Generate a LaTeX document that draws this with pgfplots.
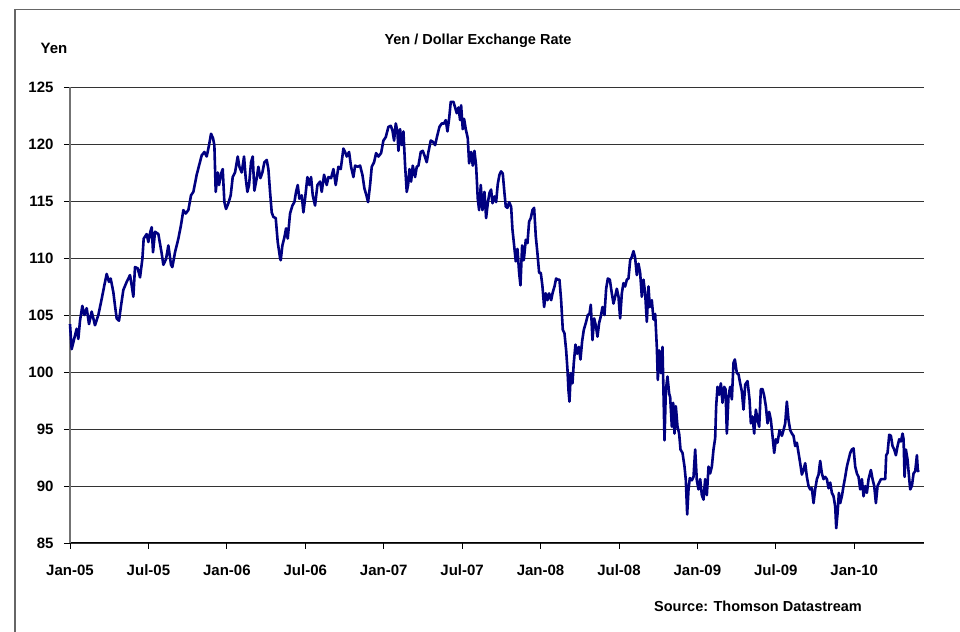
\documentclass[border=0pt]{standalone}
\usepackage{pgfplots}
\usepackage{pgfplotstable}
\pgfplotsset{compat=1.18}
\usepackage{fontspec}
\setmainfont{Liberation Sans}
\definecolor{navyline}{RGB}{0,0,128}

% t: time in units of 1/39.2 month from 1 Jan 2005; v: yen per dollar
\pgfplotstableread{
t v
0 104.2
5 102.0
10 102.6
20 103.8
25 102.9
30 104.5
37 105.8
43 105.0
50 105.6
57 104.2
65 105.3
75 104.1
85 105.0
95 106.4
103 107.6
110 108.6
117 107.9
122 108.2
130 107.0
135 105.8
140 104.7
147 104.5
153 105.8
160 107.2
170 107.9
180 108.5
185 107.6
190 106.6
195 109.2
203 109.1
210 108.3
217 109.9
221 111.7
230 112.1
235 111.4
241 112.3
245 112.7
249 110.5
255 112.3
265 112.1
275 110.4
280 109.4
288 109.9
295 111.1
303 109.4
307 109.2
315 110.5
325 111.7
333 112.9
340 114.2
347 113.9
355 114.2
363 115.5
370 115.8
380 117.3
387 118.1
395 119.0
403 119.3
410 118.9
417 119.9
423 120.9
429 120.5
433 119.9
437 115.8
443 117.5
447 116.4
453 117.4
458 117.8
463 114.9
468 114.3
475 114.8
482 115.5
488 117.1
495 117.5
503 118.9
508 118.0
515 117.5
522 118.9
527 117.0
532 115.8
537 116.4
543 118.4
548 118.9
553 115.9
560 117.0
565 118.0
571 117.0
577 117.5
583 118.4
590 118.6
595 117.8
600 115.8
605 114.0
610 113.6
617 113.5
623 111.4
630 110.0
632 109.8
637 111.1
643 111.8
648 112.6
653 111.7
660 113.9
667 114.6
673 114.9
678 115.8
683 116.4
688 115.2
695 115.5
700 114.0
705 115.2
712 117.1
718 116.4
723 117.1
728 115.5
735 114.6
742 116.4
750 116.7
755 115.8
762 117.3
770 116.4
775 117.1
783 117.0
790 117.8
797 116.4
805 118.0
812 117.8
820 119.6
825 119.3
830 118.9
837 119.3
843 118.0
850 117.1
855 118.1
863 118.0
870 118.1
877 117.3
883 116.1
889 115.5
894 114.9
900 116.4
905 118.0
912 118.4
918 119.2
925 118.9
933 119.2
940 120.3
947 120.6
955 121.5
962 121.6
967 121.2
972 120.3
977 121.8
982 121.1
985 119.4
990 121.3
995 119.9
1000 121.1
1005 118.1
1010 115.8
1014 116.4
1018 117.8
1023 116.7
1028 118.1
1035 117.1
1040 118.0
1045 118.1
1052 119.3
1058 119.4
1063 119.0
1070 118.4
1075 119.3
1082 120.3
1088 120.2
1095 119.9
1102 120.8
1108 121.5
1115 121.8
1122 121.8
1127 122.1
1132 121.1
1137 122.2
1142 123.7
1150 123.7
1155 123.2
1160 122.7
1165 123.2
1170 122.1
1173 123.4
1178 121.3
1182 122.2
1187 121.3
1193 120.5
1197 118.3
1203 119.3
1208 118.1
1213 119.4
1218 118.1
1223 115.2
1227 114.2
1232 116.4
1237 114.2
1243 115.8
1248 113.5
1253 114.8
1258 115.7
1263 116.0
1267 114.8
1273 115.4
1278 114.9
1283 116.5
1288 117.3
1293 117.6
1298 117.4
1303 115.7
1307 114.5
1312 114.4
1317 114.9
1323 114.5
1327 112.5
1332 111.1
1337 109.7
1342 110.8
1347 108.7
1351 107.6
1356 111.1
1361 109.8
1367 111.6
1372 111.3
1377 113.2
1382 113.5
1387 114.2
1392 114.4
1397 111.9
1402 110.4
1407 108.7
1412 108.7
1417 107.5
1422 105.7
1427 106.9
1432 106.3
1437 106.9
1443 106.3
1448 107.0
1453 107.5
1458 108.2
1463 108.1
1468 108.1
1473 106.3
1478 103.7
1483 103.4
1488 101.9
1492 100.2
1495 98.4
1498 97.4
1502 99.9
1507 99.0
1511 100.8
1516 102.4
1521 101.6
1526 102.2
1531 101.1
1536 102.7
1541 103.7
1547 104.3
1553 105.0
1558 105.1
1562 105.9
1567 102.8
1572 104.7
1577 104.1
1582 103.1
1587 104.3
1592 104.9
1597 105.7
1603 105.0
1608 107.3
1613 108.2
1619 108.1
1625 106.9
1630 106.0
1635 106.6
1640 107.3
1645 106.6
1650 104.7
1655 106.9
1660 107.8
1665 107.5
1670 108.1
1675 108.2
1680 109.8
1685 110.1
1690 110.6
1695 110.0
1700 108.5
1705 109.5
1710 108.7
1715 106.6
1720 108.1
1725 106.9
1730 104.4
1735 107.5
1739 105.7
1745 106.3
1750 104.6
1755 105.1
1760 102.2
1763 99.3
1767 101.9
1772 99.9
1777 102.2
1780 98.1
1783 94.0
1787 98.4
1792 99.6
1797 98.1
1800 97.8
1805 95.2
1809 97.3
1813 94.6
1817 97.0
1822 95.2
1827 94.6
1831 93.2
1837 92.9
1843 91.7
1847 90.5
1851 87.5
1855 89.7
1859 90.7
1865 90.5
1870 90.8
1875 93.2
1880 90.5
1885 89.7
1890 90.6
1895 89.2
1900 88.8
1905 90.6
1910 89.2
1915 91.7
1920 91.1
1925 91.7
1930 93.2
1935 94.2
1938 97.0
1942 98.7
1947 98.0
1952 99.0
1957 97.3
1962 98.7
1966 98.5
1970 94.6
1975 97.9
1980 98.7
1985 97.6
1990 100.8
1994 101.1
2000 99.9
2005 99.8
2010 99.0
2015 98.3
2020 96.7
2025 98.9
2032 99.2
2038 97.6
2042 95.5
2047 96.1
2052 94.6
2057 96.7
2062 95.8
2067 95.2
2072 98.5
2077 98.5
2082 97.9
2087 97.0
2092 95.5
2097 96.5
2102 95.8
2108 94.1
2112 92.9
2117 94.1
2122 93.8
2128 94.9
2135 94.4
2140 94.9
2145 95.5
2150 97.4
2155 95.8
2160 94.9
2165 94.6
2170 94.4
2175 93.5
2180 93.8
2185 92.9
2190 92.0
2195 91.0
2200 91.4
2205 92.0
2210 90.8
2215 90.0
2220 89.7
2225 89.8
2230 88.5
2235 89.7
2240 90.6
2245 91.0
2250 92.2
2255 91.1
2260 90.6
2265 90.8
2270 90.6
2275 89.8
2280 90.3
2285 89.4
2290 89.1
2295 88.2
2298 86.3
2302 87.6
2306 89.4
2310 88.5
2315 89.1
2320 90.0
2325 90.8
2330 91.7
2335 92.3
2340 92.9
2345 93.2
2350 93.3
2355 91.7
2360 91.1
2365 90.8
2370 89.7
2375 90.6
2380 89.1
2385 90.0
2390 89.4
2395 90.6
2402 91.4
2407 90.6
2412 90.0
2417 88.5
2422 90.0
2427 90.3
2432 90.6
2438 90.6
2445 90.6
2448 92.7
2452 92.9
2457 94.5
2462 94.4
2467 93.5
2472 93.2
2477 92.7
2482 93.5
2487 94.1
2492 93.9
2497 94.6
2500 94.1
2503 90.8
2507 93.2
2512 92.3
2517 90.6
2520 89.7
2525 90.0
2530 91.1
2535 91.3
2540 92.7
2543 91.3
2546 91.4
}\yendata

\begin{document}
\begin{tikzpicture}[x=1bp,y=1bp]
\useasboundingbox (0,0) rectangle (960,632);
\fill[white] (0,0) rectangle (960,632);
\draw[black!60, line width=1.5bp] (15,-5) -- (15,622.5) -- (970,622.5);
\begin{axis}[
  at={(70bp,89bp)}, anchor=south west,
  scale only axis, width=854bp, height=456bp,
  xmin=0, xmax=65.34, ymin=85, ymax=125,
  axis x line*=bottom, axis y line*=left,
  x axis line style={black, line width=1bp},
  y axis line style={black!55, line width=1.5bp},
  tick align=outside, major tick length=6bp,
  tick style={black, line width=0.9bp},
  xtick={0,6,...,60},
  xticklabels={Jan-05,Jul-05,Jan-06,Jul-06,Jan-07,Jul-07,Jan-08,Jul-08,Jan-09,Jul-09,Jan-10},
  ytick={85,90,...,125},
  ymajorgrids, grid style={black!80, line width=0.9bp},
  tick label style={font=\fontsize{15bp}{17bp}\selectfont\bfseries},
  /pgf/number format/assume math mode=true,
  xticklabel style={anchor=base, text height=11bp, text depth=0bp, yshift=-27bp},
  yticklabel style={xshift=-7bp},
  clip=false,
]
\addplot[navyline, line width=2.6bp, line join=round] table[x expr=\thisrow{t}/39.2, y=v] {\yendata};
\end{axis}
\node[font=\fontsize{15bp}{17bp}\selectfont\bfseries] at (54,583.5) {Yen};
\node[font=\fontsize{14.5bp}{17bp}\selectfont\bfseries] at (478,591) {Yen / Dollar Exchange Rate};
\node[font=\fontsize{14.5bp}{17bp}\selectfont\bfseries] at (758,26) {Source: Thomson Datastream};
\end{tikzpicture}
\end{document}
